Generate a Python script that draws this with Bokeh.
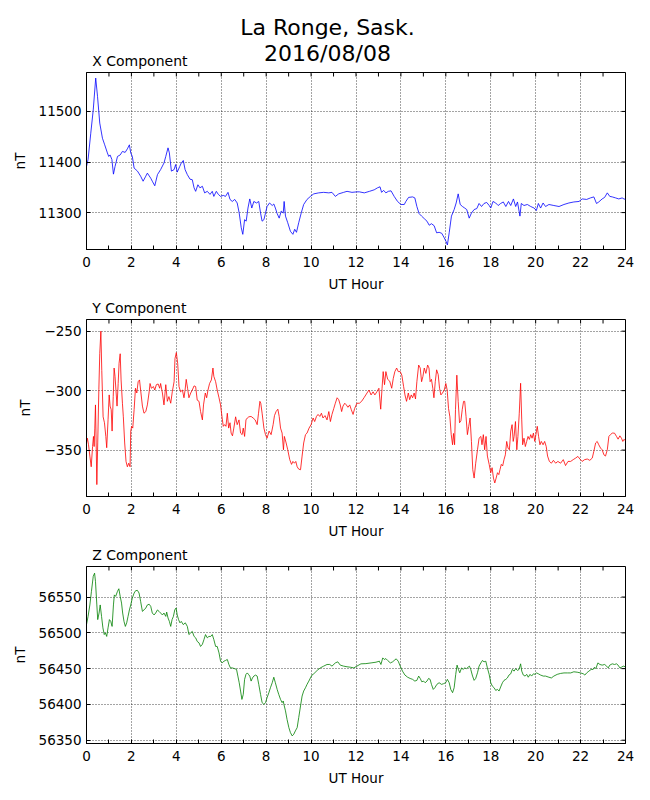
import math
from bokeh.plotting import figure
from bokeh.models import Range1d, FixedTicker
from bokeh.core.properties import value
from bokeh.layouts import column
from bokeh.embed import file_html
from bokeh.resources import INLINE

FONT = "DejaVu Sans"

# ---------------- data ----------------
X_HOURS = [0, 0.07, 0.19, 0.3, 0.41, 0.49, 0.59, 0.71, 0.81, 0.93, 0.99, 1.05, 1.13, 1.2, 1.27, 1.38, 1.5, 1.6, 1.72, 1.82,
           1.91, 1.97, 2.04, 2.12, 2.27, 2.41, 2.52, 2.64, 2.71, 2.86, 2.93, 3.04, 3.16, 3.3, 3.45, 3.53, 3.63, 3.69, 3.78, 3.9,
           3.97, 4.04, 4.15, 4.22, 4.31, 4.39, 4.49, 4.61, 4.71, 4.79, 4.86, 4.96, 5.05, 5.16, 5.26, 5.38, 5.5, 5.6, 5.67, 5.78,
           5.87, 5.97, 6.09, 6.19, 6.3, 6.39, 6.49, 6.6, 6.71, 6.8, 6.89, 6.96, 7.04, 7.11, 7.19, 7.27, 7.36, 7.45, 7.57, 7.67,
           7.75, 7.82, 7.9, 7.97, 8.04, 8.15, 8.27, 8.34, 8.41, 8.49, 8.58, 8.67, 8.76, 8.8, 8.86, 8.96, 9.08, 9.19, 9.27, 9.35,
           9.45, 9.56, 9.67, 9.82, 9.97, 10.12, 10.34, 10.56, 10.79, 10.93, 11.08, 11.23, 11.45, 11.6, 11.82, 12.04, 12.15, 12.37,
           12.6, 12.81, 12.96, 13.07, 13.14, 13.23, 13.33, 13.44, 13.56, 13.7, 13.85, 14.0, 14.15, 14.22, 14.34, 14.52, 14.62,
           14.71, 14.81, 14.92, 15.04, 15.16, 15.26, 15.36, 15.48, 15.59, 15.7, 15.82, 15.93, 16.01, 16.07, 16.15, 16.25, 16.37,
           16.46, 16.55, 16.64, 16.74, 16.84, 16.93, 17.04, 17.14, 17.26, 17.38, 17.48, 17.59, 17.7, 17.82, 17.93, 18.0, 18.1,
           18.22, 18.33, 18.44, 18.56, 18.67, 18.79, 18.89, 19.01, 19.11, 19.19, 19.3, 19.36, 19.48, 19.63, 19.78, 19.93, 20.03,
           20.12, 20.22, 20.33, 20.44, 20.59, 20.81, 21.04, 21.26, 21.48, 21.7, 21.93, 22.07, 22.27, 22.44, 22.59, 22.71, 22.81,
           22.96, 23.07, 23.19, 23.3, 23.41, 23.56, 23.7, 23.85, 23.93, 24.0]
X_NT = [11391, 11405, 11457, 11503, 11566, 11530, 11477, 11447, 11434, 11418, 11411, 11414, 11405, 11376, 11391, 11411, 11414,
        11421, 11419, 11426, 11434, 11418, 11411, 11388, 11382, 11372, 11362, 11372, 11378, 11368, 11362, 11353, 11375, 11385,
        11398, 11411, 11428, 11418, 11382, 11385, 11395, 11380, 11391, 11398, 11403, 11385, 11375, 11366, 11365, 11349, 11342,
        11355, 11349, 11352, 11339, 11342, 11336, 11342, 11332, 11342, 11336, 11332, 11334, 11332, 11340, 11326, 11322, 11326,
        11319, 11299, 11270, 11257, 11286, 11283, 11309, 11327, 11309, 11322, 11319, 11322, 11299, 11283, 11286, 11299, 11312,
        11319, 11314, 11317, 11309, 11298, 11289, 11303, 11299, 11322, 11293, 11280, 11263, 11257, 11267, 11261, 11280, 11299,
        11316, 11326, 11332, 11337, 11339, 11340, 11339, 11340, 11332, 11337, 11340, 11342, 11340, 11341, 11341, 11339, 11342,
        11345, 11349, 11351, 11340, 11344, 11339, 11342, 11343, 11332, 11322, 11316, 11316, 11322, 11330, 11331, 11329, 11312,
        11298, 11293, 11288, 11283, 11275, 11278, 11274, 11260, 11261, 11259, 11250, 11243, 11236, 11260, 11293, 11306, 11319,
        11337, 11316, 11312, 11309, 11306, 11289, 11299, 11306, 11308, 11318, 11312, 11318, 11320, 11314, 11309, 11322, 11319,
        11314, 11318, 11321, 11312, 11322, 11314, 11327, 11312, 11321, 11293, 11318, 11314, 11316, 11312, 11309, 11304, 11318,
        11309, 11319, 11312, 11316, 11314, 11312, 11316, 11319, 11321, 11322, 11327, 11326, 11329, 11331, 11318, 11321, 11327,
        11330, 11339, 11332, 11331, 11329, 11327, 11329, 11327, 11326]

Y_HOURS = [0, 0.04, 0.09, 0.15, 0.21, 0.27, 0.31, 0.34, 0.37, 0.4, 0.43, 0.46, 0.5, 0.55, 0.59, 0.64, 0.68, 0.74, 0.8, 0.86,
           0.9, 0.96, 1.01, 1.05, 1.1, 1.14, 1.19, 1.23, 1.27, 1.32, 1.36, 1.41, 1.45, 1.5, 1.54, 1.6, 1.64, 1.7, 1.76, 1.82,
           1.88, 1.94, 1.97, 2.01, 2.06, 2.12, 2.18, 2.24, 2.3, 2.36, 2.41, 2.49, 2.56, 2.64, 2.71, 2.79, 2.83, 2.89, 2.98, 3.04,
           3.11, 3.19, 3.26, 3.3, 3.38, 3.45, 3.53, 3.6, 3.67, 3.75, 3.82, 3.9, 3.94, 4.0, 4.06, 4.12, 4.19, 4.27, 4.34, 4.39,
           4.44, 4.5, 4.56, 4.64, 4.71, 4.79, 4.86, 4.93, 5.01, 5.08, 5.16, 5.21, 5.29, 5.35, 5.41, 5.48, 5.56, 5.63, 5.67, 5.75,
           5.82, 5.9, 5.97, 6.04, 6.09, 6.15, 6.21, 6.27, 6.33, 6.39, 6.44, 6.5, 6.56, 6.64, 6.71, 6.79, 6.86, 6.93, 6.98, 7.04,
           7.1, 7.16, 7.23, 7.33, 7.42, 7.51, 7.6, 7.66, 7.72, 7.76, 7.82, 7.9, 7.97, 8.04, 8.13, 8.22, 8.31, 8.37, 8.44, 8.52,
           8.58, 8.64, 8.71, 8.77, 8.81, 8.89, 8.96, 9.05, 9.13, 9.19, 9.26, 9.32, 9.38, 9.45, 9.53, 9.6, 9.67, 9.75, 9.82, 9.91,
           10.0, 10.09, 10.16, 10.24, 10.31, 10.39, 10.46, 10.53, 10.62, 10.71, 10.79, 10.86, 10.93, 11.01, 11.08, 11.16, 11.23,
           11.3, 11.36, 11.42, 11.5, 11.57, 11.64, 11.72, 11.79, 11.87, 11.94, 12.04, 12.15, 12.25, 12.37, 12.49, 12.58, 12.67,
           12.76, 12.84, 12.93, 13.02, 13.1, 13.16, 13.21, 13.27, 13.33, 13.41, 13.5, 13.59, 13.66, 13.73, 13.81, 13.88, 13.97,
           14.04, 14.12, 14.18, 14.25, 14.33, 14.39, 14.46, 14.52, 14.59, 14.65, 14.71, 14.79, 14.86, 14.92, 14.98, 15.04, 15.11,
           15.19, 15.25, 15.3, 15.36, 15.42, 15.47, 15.53, 15.59, 15.66, 15.72, 15.78, 15.85, 15.93, 16.0, 16.06, 16.12, 16.18,
           16.24, 16.3, 16.34, 16.39, 16.43, 16.49, 16.55, 16.61, 16.67, 16.73, 16.79, 16.84, 16.9, 16.96, 17.02, 17.08, 17.14,
           17.2, 17.26, 17.33, 17.41, 17.48, 17.56, 17.61, 17.67, 17.73, 17.79, 17.85, 17.93, 18.0, 18.06, 18.12, 18.18, 18.24,
           18.3, 18.36, 18.41, 18.47, 18.53, 18.59, 18.65, 18.71, 18.77, 18.83, 18.89, 18.95, 19.0, 19.04, 19.1, 19.16, 19.21,
           19.27, 19.33, 19.38, 19.42, 19.48, 19.54, 19.6, 19.66, 19.72, 19.78, 19.84, 19.9, 19.96, 20.01, 20.07, 20.13, 20.19,
           20.25, 20.33, 20.4, 20.47, 20.53, 20.61, 20.7, 20.79, 20.89, 20.99, 21.11, 21.23, 21.33, 21.44, 21.56, 21.67, 21.78,
           21.88, 21.97, 22.07, 22.18, 22.3, 22.41, 22.52, 22.59, 22.67, 22.74, 22.81, 22.89, 22.96, 23.04, 23.11, 23.19, 23.26,
           23.33, 23.41, 23.51, 23.6, 23.67, 23.75, 23.82, 23.88, 23.93, 24.0]
Y_NT = [-344, -340, -345.5, -355, -364, -347, -338.5, -347, -331.5, -312, -344, -379, -344, -299, -269, -250, -283, -322, -327,
        -338.5, -348, -324.5, -303.6, -313, -316, -334, -305, -281, -288, -302, -313, -294, -277, -269, -291, -310.6, -322,
        -344, -359.5, -364, -361, -364, -334, -330, -331.5, -316, -298, -302, -292.5, -291, -299.5, -313, -319, -317.6, -312,
        -301, -294, -298, -296.6, -299.5, -295, -294.4, -298, -294, -302, -312, -295, -309, -305, -310.6, -301, -292.5, -273,
        -268, -277, -296.6, -301, -299.5, -306, -299.5, -290.5, -298, -306, -302, -299.5, -296, -296.6, -308, -309, -317.6,
        -324.6, -312, -302, -306, -299.5, -294, -291, -281, -288, -292.5, -299.5, -306, -312, -323, -330, -328.6, -330, -319,
        -331.5, -327, -335.7, -338, -331.5, -322, -328.6, -324.6, -335.7, -337, -331.5, -338.5, -324.6, -323, -322, -321.7,
        -323, -324.6, -328.6, -319, -309, -310.6, -319, -331.5, -337, -340, -334, -337, -328.6, -321, -317.6, -315.6, -321.7,
        -331.5, -335.7, -349.7, -338.5, -344, -349.7, -358, -362, -359.5, -361, -359.5, -364, -366, -366.5, -355, -344, -337,
        -335.7, -331.5, -328.6, -323, -326, -321.7, -320, -321.7, -319, -323, -321, -324.6, -317.6, -326, -320, -315, -310.6,
        -306, -307.6, -312, -317.6, -313, -310.6, -312, -314, -312, -316, -320, -315, -310.6, -310.6, -309, -305.6, -302,
        -299.5, -303.6, -301, -303.6, -301, -298, -315.6, -298, -284, -295, -284, -290.5, -292, -298, -289.7, -284, -281, -284,
        -284, -287, -296.6, -303.6, -309, -302, -307.6, -303.6, -306, -302, -307, -292.5, -278.5, -281, -292.5, -288, -281,
        -285.5, -278.5, -281, -292.5, -290.5, -298, -306, -292.5, -282.5, -286.5, -298, -303.6, -302, -299.5, -294, -299.5,
        -315, -322, -337, -345.5, -336, -345.5, -316, -287, -309, -327, -325.4, -316, -309, -309, -321.7, -337, -330, -323,
        -342.7, -366.5, -373.5, -361, -349.7, -340, -338.5, -345.5, -337, -349.7, -338.5, -355, -362, -369, -364.8, -373.5,
        -377.6, -373.5, -369, -370.6, -366.5, -362, -363.3, -358, -354, -342.7, -348.3, -349.7, -334, -328.6, -342.7, -338.5,
        -326, -349.7, -338.5, -319, -293.8, -324.6, -345.5, -340, -347, -342.7, -338.5, -341, -337, -340, -335.7, -342.7, -337,
        -330, -338.5, -345.5, -342.7, -345.5, -342.7, -347, -355, -359.5, -361, -358.6, -361, -359.5, -361, -358, -363, -359.5,
        -359.5, -358, -356.7, -355.3, -357.5, -359.5, -358, -357.5, -358.6, -356.7, -351, -344, -342.7, -345.5, -348.3, -349.7,
        -354, -355, -349.7, -338.5, -337, -335.7, -335.7, -338.5, -340.8, -338, -340, -342.7, -341, -342]

Z_HOURS = [0, 0.07, 0.15, 0.22, 0.3, 0.36, 0.4, 0.46, 0.5, 0.56, 0.61, 0.67, 0.73, 0.79, 0.84, 0.9, 0.96, 1.02, 1.08, 1.14,
           1.2, 1.24, 1.3, 1.38, 1.44, 1.5, 1.56, 1.61, 1.67, 1.73, 1.79, 1.85, 1.91, 1.97, 2.04, 2.12, 2.19, 2.27, 2.34, 2.41,
           2.49, 2.56, 2.64, 2.71, 2.79, 2.86, 2.93, 3.01, 3.08, 3.16, 3.23, 3.3, 3.38, 3.45, 3.53, 3.57, 3.63, 3.69, 3.75, 3.81,
           3.87, 3.93, 3.99, 4.04, 4.1, 4.16, 4.22, 4.31, 4.4, 4.49, 4.56, 4.64, 4.71, 4.79, 4.86, 4.93, 5.01, 5.08, 5.16, 5.23,
           5.3, 5.38, 5.45, 5.53, 5.6, 5.67, 5.75, 5.82, 5.9, 5.97, 6.04, 6.12, 6.19, 6.27, 6.34, 6.41, 6.49, 6.59, 6.68, 6.74,
           6.8, 6.86, 6.92, 6.98, 7.04, 7.1, 7.16, 7.21, 7.27, 7.33, 7.39, 7.45, 7.53, 7.6, 7.67, 7.75, 7.82, 7.9, 7.97, 8.04,
           8.12, 8.19, 8.27, 8.34, 8.41, 8.49, 8.56, 8.64, 8.71, 8.76, 8.79, 8.86, 8.93, 9.01, 9.08, 9.16, 9.23, 9.3, 9.38, 9.45,
           9.53, 9.6, 9.67, 9.75, 9.82, 9.9, 9.97, 10.04, 10.12, 10.27, 10.41, 10.56, 10.71, 10.83, 10.93, 11.08, 11.19, 11.3,
           11.45, 11.6, 11.75, 11.9, 12.04, 12.22, 12.44, 12.67, 12.89, 13.04, 13.11, 13.19, 13.26, 13.33, 13.41, 13.53, 13.63,
           13.7, 13.79, 13.88, 13.97, 14.07, 14.18, 14.3, 14.41, 14.52, 14.62, 14.71, 14.79, 14.86, 14.93, 15.01, 15.08, 15.16,
           15.23, 15.3, 15.36, 15.44, 15.51, 15.6, 15.7, 15.81, 15.9, 15.99, 16.07, 16.15, 16.22, 16.3, 16.37, 16.44, 16.5,
           16.56, 16.62, 16.7, 16.77, 16.84, 16.92, 16.99, 17.05, 17.11, 17.19, 17.26, 17.33, 17.41, 17.48, 17.56, 17.63, 17.7,
           17.78, 17.85, 17.93, 18.0, 18.07, 18.15, 18.22, 18.3, 18.37, 18.44, 18.52, 18.59, 18.67, 18.74, 18.81, 18.89, 18.96,
           19.04, 19.11, 19.19, 19.26, 19.33, 19.38, 19.45, 19.53, 19.6, 19.67, 19.75, 19.82, 19.9, 19.97, 20.04, 20.12, 20.22,
           20.34, 20.44, 20.59, 20.7, 20.81, 20.96, 21.11, 21.26, 21.41, 21.56, 21.7, 21.85, 22.0, 22.12, 22.19, 22.27, 22.37,
           22.47, 22.56, 22.62, 22.68, 22.77, 22.86, 22.96, 23.07, 23.16, 23.23, 23.3, 23.41, 23.51, 23.6, 23.67, 23.75, 23.82,
           23.9, 24.0]
Z_NT = [56511.5, 56523, 56539, 56558, 56579, 56583.4, 56572, 56539, 56518.5, 56527.7, 56539, 56523, 56507, 56497.6, 56500,
        56495, 56507, 56518.5, 56516, 56509, 56539, 56553, 56551, 56558, 56561.6, 56551, 56541.6, 56527.7, 56516, 56509, 56514,
        56523, 56532, 56539, 56548.6, 56555.6, 56559, 56559.3, 56555.6, 56544, 56530, 56532, 56534.7, 56539, 56540, 56537,
        56527.7, 56525, 56527.7, 56532, 56530, 56527.7, 56525, 56527.7, 56523, 56529, 56520.8, 56516, 56509, 56518.5, 56523,
        56532, 56534.7, 56525, 56518.5, 56514, 56516, 56511.5, 56514, 56509, 56497.6, 56500, 56502, 56495, 56493, 56488, 56486,
        56481, 56484, 56490.6, 56497.6, 56493, 56495, 56495, 56497.6, 56490.6, 56481, 56481, 56472, 56460.4, 56458, 56460.4,
        56461.4, 56462.8, 56455.8, 56451, 56451, 56450, 56449, 56439.6, 56430.3, 56418.7, 56407, 56414, 56435, 56442, 56444,
        56442, 56439.6, 56432.6, 56437, 56439.6, 56441, 56439.6, 56428, 56414, 56402.5, 56400, 56402.5, 56409.4, 56416.4,
        56423.3, 56430.3, 56438, 56430.3, 56421, 56414, 56407, 56402.5, 56404.8, 56400, 56391, 56379, 56367.6, 56360.7, 56356,
        56358.4, 56363, 56367.6, 56381.6, 56397.8, 56411.7, 56418.7, 56423.3, 56428, 56432.6, 56437, 56441, 56442.8, 56447.5,
        56451, 56453.5, 56455.8, 56455.8, 56453.5, 56458, 56459.5, 56454.9, 56453.5, 56452.6, 56452, 56451, 56453.5, 56456.7,
        56457, 56458, 56459, 56460.4, 56455.8, 56465, 56462.8, 56464, 56461.4, 56458, 56459.5, 56461.4, 56463.7, 56460.4,
        56453.5, 56446.5, 56441, 56438, 56436.3, 56435, 56432.6, 56433.6, 56439.6, 56436.3, 56431.6, 56432.6, 56430.3, 56432.6,
        56436.3, 56435, 56428, 56421, 56423.3, 56428, 56430.3, 56428, 56429, 56430.3, 56435, 56430.3, 56421, 56416.4, 56423.3,
        56441.9, 56454.9, 56448.9, 56444.2, 56451, 56448.9, 56451, 56450, 56452, 56453.5, 56448.9, 56439.6, 56433.6, 56436.3,
        56444.2, 56453.5, 56458, 56461.4, 56459.5, 56460.4, 56451, 56441.9, 56430.3, 56425.6, 56423.3, 56419.6, 56421, 56418.7,
        56424.3, 56430.3, 56433.6, 56435, 56437, 56441, 56442.8, 56448.9, 56446.5, 56450, 56447.5, 56448.9, 56456.7, 56446.5,
        56441, 56439.6, 56442, 56438, 56442, 56439.6, 56442.8, 56442, 56444, 56442.8, 56441, 56439.6, 56439.6, 56438, 56437,
        56439.6, 56442, 56443.3, 56444, 56444, 56444, 56445.6, 56445, 56444, 56442.8, 56441, 56444, 56446.5, 56448.9, 56448.9,
        56452, 56450, 56458, 56455.8, 56454.9, 56455.8, 56453.5, 56451, 56454.9, 56456.7, 56455.8, 56456.7, 56454.9, 56451,
        56452, 56453.5, 56452.6]

HOUR_TICKS = [0, 2, 4, 6, 8, 10, 12, 14, 16, 18, 20, 22, 24]
HOUR_MINOR = [1, 3, 5, 7, 9, 11, 13, 15, 17, 19, 21, 23]
X_TICKS = [11300, 11400, 11500]
Y_TICKS = [-350, -300, -250]
Z_TICKS = [56350, 56400, 56450, 56500, 56550]

TITLE_1 = "La Ronge, Sask."
TITLE_2 = "2016/08/08"

# ---------------- layout constants ----------------
LEFT, RIGHT = 86, 20
FRAME_W, FRAME_H = 539, 177
BOTTOM = 45


def tick_text(v):
    return ("\u2212%d" % -v) if v < 0 else "%d" % v


def header(height, texts):
    """A frameless strip holding title texts; x is page pixels, y is pixels up from the strip bottom."""
    h = figure(frame_width=FRAME_W, frame_height=height,
               min_border_left=LEFT, min_border_right=RIGHT, min_border_top=0, min_border_bottom=0,
               x_range=Range1d(LEFT, LEFT + FRAME_W), y_range=Range1d(0, height),
               x_axis_location=None, y_axis_location=None,
               output_backend="svg", toolbar_location=None)
    h.outline_line_color = None
    h.xgrid.visible = False
    h.ygrid.visible = False
    for txt, x, y_base, size, align in texts:
        # text is anchored on its middle; the baseline lies ~0.346 em below it
        h.text(x=[x], y=[y_base + 0.346 * size], text=[txt], text_font=value(FONT),
               text_font_size=value("%gpx" % size), text_color="black",
               text_align=align, text_baseline="middle")
    return h


def panel(hours, vals, color, ylo, yhi, yticks):
    p = figure(frame_width=FRAME_W, frame_height=FRAME_H,
               x_range=Range1d(0, 24), y_range=Range1d(ylo, yhi),
               output_backend="svg", toolbar_location=None,
               min_border_left=LEFT, min_border_right=RIGHT,
               min_border_top=1, min_border_bottom=BOTTOM)
    p.outline_line_color = "black"
    p.outline_line_width = 1
    p.outline_line_alpha = 1

    p.xaxis.ticker = FixedTicker(ticks=HOUR_TICKS, minor_ticks=HOUR_MINOR)
    p.yaxis.ticker = FixedTicker(ticks=yticks, minor_ticks=[])
    p.yaxis.major_label_overrides = {v: tick_text(v) for v in yticks}

    for ax in (p.xaxis[0], p.yaxis[0]):
        ax.major_tick_in = 4
        ax.major_tick_out = 0
        ax.minor_tick_in = 4
        ax.minor_tick_out = 0
        ax.major_tick_line_color = "black"
        ax.minor_tick_line_color = "black"
        ax.axis_line_color = "black"
        ax.major_label_text_font = FONT
        ax.major_label_text_font_size = "13.5px"
        ax.major_label_text_color = "black"
        ax.axis_label_text_font = FONT
        ax.axis_label_text_font_size = "13.5px"
        ax.axis_label_text_font_style = "normal"
        ax.axis_label_text_color = "black"
    p.xaxis.axis_label = "UT Hour"
    p.yaxis.axis_label = "nT"
    p.xaxis.major_label_standoff = 7
    p.xaxis.axis_label_standoff = 6
    p.yaxis.major_label_standoff = 5
    p.yaxis.axis_label_standoff = 8

    for g in (p.xgrid[0], p.ygrid[0]):
        g.grid_line_color = "black"
        g.grid_line_dash = "1 2"
        g.grid_line_width = 0.8
        g.grid_line_alpha = 0.9

    # inward ticks on the top and right edges of the frame
    top_x = HOUR_TICKS + HOUR_MINOR
    p.ray(x=top_x, y=[yhi] * len(top_x), length=4, length_units="screen",
          angle=-math.pi / 2, line_color="black", line_width=1)
    p.ray(x=[24] * len(yticks), y=yticks, length=4, length_units="screen",
          angle=math.pi, line_color="black", line_width=1)

    p.line(hours, vals, line_color=color, line_width=0.8)
    return p


h1 = header(71, [(TITLE_1, 327, 36.7, 22, "center"),
                 (TITLE_2, 327, 10, 22, "center"),
                 ("X Component", 91.7, 5.3, 14, "left")])
p1 = panel(X_HOURS, X_NT, "#0000ff", 11227, 11577, X_TICKS)
h2 = header(24, [("Y Component", 91.7, 5.7, 14, "left")])
p2 = panel(Y_HOURS, Y_NT, "#ff0000", -389, -240.2, Y_TICKS)
h3 = header(24, [("Z Component", 91.7, 5.7, 14, "left")])
p3 = panel(Z_HOURS, Z_NT, "#008000", 56345.4, 56592.7, Z_TICKS)

layout = column(h1, p1, h2, p2, h3, p3, spacing=0)
open("out.html", "w").write(file_html(layout, INLINE))
